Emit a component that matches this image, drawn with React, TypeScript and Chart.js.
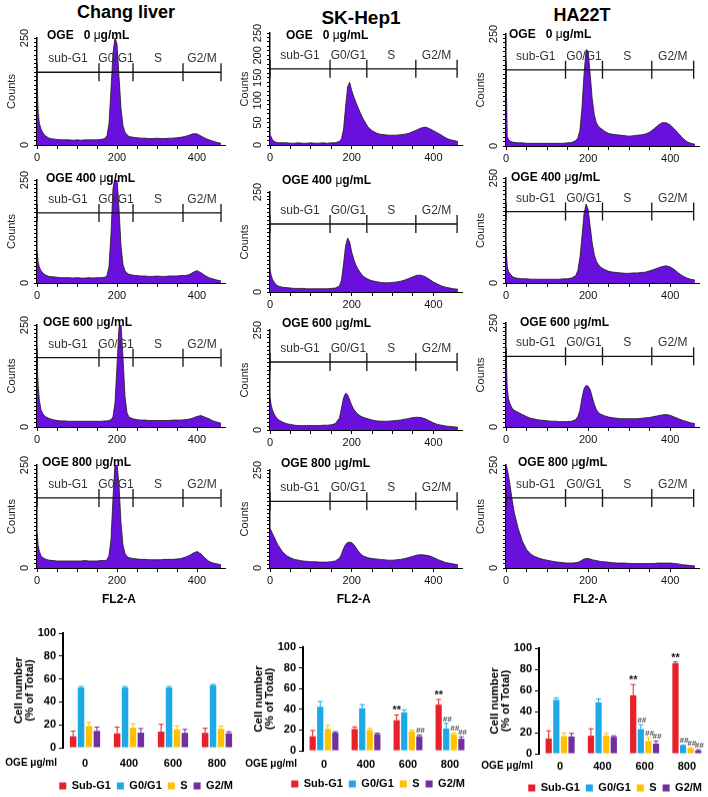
import React, { useEffect, useRef } from "react";
import { Chart, registerables } from "chart.js";

Chart.register(...registerables);

// ---------------- DATA ----------------
const CELL_LINES = ["Chang liver", "SK-Hep1", "HA22T"];
const OGE_DOSES = ["0", "400", "600", "800"];
const PHASES = ["sub-G1", "G0/G1", "S", "G2/M"];
const BAR_PHASES = ["Sub-G1", "G0/G1", "S", "G2/M"];
const DOSE_AXIS_LABEL = "OGE μg/ml";
const HIST_X_TITLE = "FL2-A";
const HIST_X_TITLE_AT = 205;

// FL2-A channel positions at which histogram counts are read
const FL2_BINS = [
  0, 3, 6, 10, 15, 20,
  30, 40, 50, 60, 70, 80, 90, 100, 110, 120, 130, 140, 150, 160,
  170, 175, 180, 185, 190, 195, 200, 205, 210, 215, 220, 225, 230,
  240, 250, 260, 270, 280, 290, 300, 310, 320, 330, 340, 350, 360, 370, 380, 390, 400, 410, 420, 430, 440, 450, 460,
];

const CHANG_0 = [
  160, 75, 50, 38, 28, 22,
  16, 14, 13, 12, 12, 12, 11, 12, 11, 12, 12, 12, 12, 13,
  15, 22, 50, 130, 215, 252, 235, 160, 85, 45, 30, 24, 20,
  18, 17, 16, 16, 15, 15, 16, 15, 15, 16, 16, 17, 18, 20, 23, 26, 26, 21, 16, 12, 9, 6, 4,
];
const CHANG_400 = [
  80, 50, 38, 30, 24, 20,
  16, 15, 14, 13, 13, 13, 12, 13, 12, 12, 13, 12, 13, 13,
  14, 18, 40, 120, 230, 255, 255, 180, 90, 45, 30, 24, 21,
  19, 18, 17, 17, 16, 16, 17, 16, 16, 17, 17, 17, 18, 18, 20, 26, 30, 25, 18, 13, 10, 7, 5,
];
const CHANG_600 = [
  175, 100, 65, 42, 32, 26,
  21, 18, 16, 15, 15, 14, 14, 14, 14, 14, 14, 14, 14, 14,
  15, 15, 16, 18, 25, 60, 150, 245, 255, 170, 75, 35, 24,
  20, 18, 17, 17, 16, 16, 16, 16, 16, 16, 17, 17, 17, 18, 19, 22, 26, 28, 24, 20, 15, 12, 9,
];
const CHANG_800 = [
  85, 55, 40, 30, 25, 22,
  19, 18, 17, 17, 17, 17, 17, 17, 17, 18, 17, 17, 17, 18,
  18, 20, 30, 70, 170, 255, 255, 200, 110, 55, 35, 28, 25,
  23, 22, 21, 21, 20, 20, 20, 20, 21, 21, 21, 22, 23, 26, 30, 36, 40, 34, 24, 16, 12, 10, 8,
];
const SK_0 = [
  22, 18, 12, 8, 6, 5,
  5, 5, 4, 4, 5, 4, 4, 5, 4, 4, 5, 4, 5, 5,
  8, 14, 35, 85, 130, 140, 122, 108, 96, 85, 74, 64, 55,
  40, 32, 27, 24, 23, 22, 22, 22, 23, 24, 26, 30, 34, 38, 40, 37, 32, 27, 22, 16, 12, 10, 8,
];
const SK_400 = [
  55, 42, 32, 25, 18, 15,
  12, 11, 10, 9, 9, 9, 8, 8, 8, 8, 8, 8, 9, 10,
  15, 30, 70, 115, 135, 125, 100, 82, 68, 58, 50, 43, 38,
  32, 28, 26, 24, 23, 23, 24, 25, 27, 30, 34, 38, 42, 42, 38, 32, 25, 20, 15, 12, 10, 8, 7,
];
const SK_600 = [
  80, 62, 50, 40, 32, 26,
  20, 16, 14, 12, 11, 11, 11, 11, 11, 11, 12, 12, 13, 16,
  30, 55, 80, 92, 88, 75, 62, 52, 45, 40, 36, 33, 31,
  28, 25, 23, 22, 22, 22, 23, 24, 25, 27, 29, 31, 32, 31, 28, 23, 18, 14, 12, 10, 9, 8, 7,
];
const SK_800 = [
  100, 95, 88, 80, 68, 58,
  42, 32, 26, 22, 20, 18, 17, 16, 16, 15, 15, 15, 16, 18,
  25, 35, 50, 60, 65, 66, 65, 60, 52, 45, 38, 33, 30,
  26, 24, 23, 22, 21, 20, 20, 21, 22, 24, 27, 30, 33, 34, 33, 31, 27, 22, 18, 14, 12, 10, 8,
];
const HA_0 = [
  180, 22, 15, 11, 9, 8,
  7, 7, 6, 6, 6, 6, 6, 6, 6, 6, 6, 6, 7, 8,
  12, 18, 35, 85, 160, 215, 212, 160, 105, 70, 52, 44, 40,
  33, 28, 26, 25, 24, 23, 22, 23, 24, 25, 27, 31, 38, 46, 52, 52, 47, 38, 28, 18, 10, 6, 4,
];
const HA_400 = [
  90, 40, 28, 22, 16, 13,
  11, 10, 10, 9, 9, 9, 9, 9, 9, 9, 9, 10, 10, 12,
  18, 30, 60, 110, 165, 188, 175, 135, 95, 68, 52, 44, 38,
  32, 28, 26, 25, 24, 23, 23, 24, 24, 25, 26, 29, 32, 36, 39, 41, 38, 32, 24, 17, 12, 9, 7,
];
const HA_600 = [
  185, 95, 68, 55, 45, 40,
  35, 30, 25, 21, 19, 17, 16, 15, 14, 14, 13, 13, 13, 14,
  18, 25, 40, 70, 92, 100, 98, 90, 72, 55, 42, 35, 31,
  27, 24, 22, 21, 20, 20, 20, 20, 20, 21, 22, 23, 25, 27, 29, 30, 28, 24, 20, 16, 13, 10, 8,
];
const HA_800 = [
  250, 240, 225, 200, 165, 135,
  95, 65, 45, 34, 28, 24, 21, 19, 17, 15, 14, 13, 12, 12,
  13, 14, 16, 19, 22, 23, 23, 22, 20, 19, 18, 17, 16,
  15, 14, 13, 12, 12, 12, 11, 11, 11, 11, 11, 11, 11, 12, 12, 12, 12, 11, 10, 8, 7, 6, 5,
];

// gate boundaries (FL2-A) and gate bar level (counts)
const GATES_CHANG = [0, 155, 240, 365, 460];
const GATES_SK = [0, 147, 237, 357, 458];
const GATES_HA = [0, 145, 235, 355, 457];
const GATE_LEVEL = 170;

const Y_TICKS_DEFAULT = [0, 250];
const Y_TICKS_SK_FIRST = [0, 50, 100, 150, 200, 250];

// bar charts: % of total cells, mean and error
const CHANG_SUBG1 = [10, 12.5, 14, 13];
const CHANG_SUBG1_ERR = [4.5, 5.5, 6.5, 4];
const CHANG_G0G1 = [52.5, 52.5, 52.5, 54.5];
const CHANG_G0G1_ERR = [1, 1, 1, 0.8];
const CHANG_S = [19, 17.5, 16, 16.5];
const CHANG_S_ERR = [3, 3.5, 3, 2.5];
const CHANG_G2M = [14.7, 13.2, 13, 12.6];
const CHANG_G2M_ERR = [3.3, 3.5, 3, 1.4];

const SK_SUBG1 = [14, 21, 29.5, 44.5];
const SK_SUBG1_ERR = [5.5, 2, 5, 5];
const SK_G0G1 = [42.5, 41, 37, 21.5];
const SK_G0G1_ERR = [5, 3.5, 2.5, 5];
const SK_S = [21, 20, 18.7, 16];
const SK_S_ERR = [3.5, 1.5, 1.3, 1.4];
const SK_G2M = [17.4, 16, 14, 11.6];
const SK_G2M_ERR = [1, 1, 1.3, 1.9];

const HA_SUBG1 = [14.4, 17, 55.3, 85.6];
const HA_SUBG1_ERR = [7.3, 6.6, 10.2, 1.3];
const HA_G0G1 = [51, 48.6, 23.3, 7.7];
const HA_G0G1_ERR = [2, 3.2, 4.2, 0.6];
const HA_S = [16.6, 17, 12, 5];
const HA_S_ERR = [3.2, 2.2, 3.3, 0.7];
const HA_G2M = [16.3, 16, 9.6, 2.9];
const HA_G2M_ERR = [2.9, 1, 2.4, 0.9];

const NO_SIG = ["", "", "", ""];
const SK_SUBG1_SIG = ["", "", "**", "**"];
const SK_G0G1_SIG = ["", "", "", "##"];
const SK_S_SIG = ["", "", "", "##"];
const SK_G2M_SIG = ["", "", "##", "##"];
const HA_SUBG1_SIG = ["", "", "**", "**"];
const HA_OTHER_SIG = ["", "", "##", "##"];

// ---------------- STYLE / LAYOUT ----------------
const SANS = "'Liberation Sans', Arial, Helvetica, sans-serif";
const NARROW = "'Liberation Sans Narrow', 'Arial Narrow', 'Liberation Sans', Arial, sans-serif";
const HIST_FILL = "#6A10DC";
const BAR_COLORS = ["#E8202A", "#1CA9E6", "#FFC000", "#7030A0"];

const HEAD_POS = [
  [126, 12],
  [361, 18],
  [582, 15],
];
const HEAD_SIZE = [18, 19, 18];
const HIST_COLS = [
  { axisX: 37, plotW: 188 },
  { axisX: 270, plotW: 192 },
  { axisX: 506, plotW: 193 },
];
const HIST_ROWS_Y = [
  [[38, 145], [180, 283], [325, 427], [465, 568]],
  [[33, 145], [192, 292], [330, 430], [470, 568]],
  [[34, 146], [178, 283], [323, 427], [465, 568]],
];
const LABEL_POS = [
  [[47, 35], [46, 178], [43, 322], [42, 462]],
  [[286, 35], [282, 180], [282, 323], [281, 463]],
  [[509, 34], [511, 177], [520, 322], [518, 462]],
];
const BAR_LAYOUT = [
  { areaLeft: 63, areaRight: 239, areaTop: 633, areaBottom: 747, xPad: 9, legendY: 785 },
  { areaLeft: 303, areaRight: 471, areaTop: 647, areaBottom: 750, xPad: 7, legendY: 783 },
  { areaLeft: 539, areaRight: 708, areaTop: 648, areaBottom: 753, xPad: 6, legendY: 787 },
];
const LEGEND_H = 27;

// ---------------- PLUGINS ----------------
const gatePlugin = {
  id: "gates",
  afterDatasetsDraw(chart: any, _args: any, opts: any) {
    const { ctx, chartArea } = chart;
    const x = chart.scales.x;
    const y = chart.scales.y;
    const edges: number[] = opts.edges;
    const yy = y.getPixelForValue(opts.level);
    ctx.save();
    ctx.strokeStyle = "#111";
    ctx.lineWidth = 1.3;
    ctx.beginPath();
    ctx.moveTo(x.getPixelForValue(edges[0]), yy);
    ctx.lineTo(x.getPixelForValue(edges[edges.length - 1]), yy);
    edges.forEach((e) => {
      const px = x.getPixelForValue(e);
      ctx.moveTo(px, yy - 9);
      ctx.lineTo(px, yy + 9);
    });
    ctx.stroke();
    ctx.font = `12px ${NARROW}`;
    ctx.fillStyle = "#333";
    ctx.textAlign = "center";
    ctx.textBaseline = "alphabetic";
    (opts.labels as string[]).forEach((lab, i) => {
      const cx = (x.getPixelForValue(edges[i]) + x.getPixelForValue(edges[i + 1])) / 2;
      ctx.fillText(lab, cx, yy - 10);
    });
    // rotated y tick labels
    ctx.fillStyle = "#111";
    ctx.font = `11px ${NARROW}`;
    ctx.textBaseline = "middle";
    (opts.yTicks as number[]).forEach((v) => {
      const py = y.getPixelForValue(v);
      ctx.save();
      ctx.translate(chartArea.left - 12, py);
      ctx.rotate(-Math.PI / 2);
      ctx.fillText(String(v), 0, 0);
      ctx.restore();
    });
    if (opts.xTitle) {
      ctx.font = `bold 12px ${SANS}`;
      ctx.fillStyle = "#000";
      ctx.textAlign = "center";
      ctx.fillText(opts.xTitle, x.getPixelForValue(HIST_X_TITLE_AT), chartArea.bottom + 32);
    }
    ctx.restore();
  },
};

const errPlugin = {
  id: "errbars",
  afterDatasetsDraw(chart: any) {
    const { ctx, chartArea } = chart;
    const y = chart.scales.y;
    ctx.save();
    chart.data.datasets.forEach((ds: any, di: number) => {
      const meta = chart.getDatasetMeta(di);
      meta.data.forEach((bar: any, j: number) => {
        const v = ds.data[j];
        const e = ds.errorBars[j];
        const px = bar.x;
        const base = y.getPixelForValue(v);
        const top = y.getPixelForValue(v + e);
        ctx.strokeStyle = ds.backgroundColor;
        ctx.lineWidth = 1;
        ctx.beginPath();
        ctx.moveTo(px, base);
        ctx.lineTo(px, top);
        ctx.moveTo(px - 2.5, top);
        ctx.lineTo(px + 2.5, top);
        ctx.stroke();
        const mark = ds.sigMarks[j];
        if (mark) {
          ctx.textAlign = "center";
          ctx.textBaseline = "alphabetic";
          if (mark === "**") {
            ctx.font = `bold 11px ${SANS}`;
            ctx.fillStyle = "#111";
            ctx.fillText(mark, px, top - 1);
          } else {
            ctx.font = `italic bold 8px ${SANS}`;
            ctx.fillStyle = "#444";
            ctx.fillText(mark, px + 1, top - 2);
          }
        }
      });
    });
    ctx.font = `bold 10px ${NARROW}`;
    ctx.fillStyle = "#000";
    ctx.textAlign = "right";
    ctx.textBaseline = "middle";
    const lay = chart.options.plugins.errbars;
    ctx.fillText(DOSE_AXIS_LABEL, chartArea.left - 6, chartArea.bottom + lay.xPad + 6);
    ctx.restore();
  },
};

// ---------------- CONFIG BUILDERS ----------------
function histConfig(values: number[], gates: number[], yTicks: number[], bottomRow: boolean) {
  return {
    type: "line",
    data: {
      datasets: [
        {
          data: FL2_BINS.map((x, i) => ({ x, y: values[i] })),
          fill: "origin",
          backgroundColor: HIST_FILL,
          borderColor: "#1a1a1a",
          borderWidth: 0.8,
          pointRadius: 0,
          tension: 0,
        },
      ],
    },
    options: {
      animation: false,
      responsive: true,
      maintainAspectRatio: false,
      layout: { padding: { top: 22, right: 8, left: 0, bottom: 0 } },
      plugins: {
        legend: { display: false },
        tooltip: { enabled: false },
        gates: { edges: gates, level: GATE_LEVEL, labels: PHASES, yTicks, xTitle: bottomRow ? HIST_X_TITLE : "" },
      },
      scales: {
        x: {
          type: "linear",
          min: 0,
          max: 470,
          border: { color: "#000", width: 1 },
          grid: { display: true, drawOnChartArea: false, drawTicks: true, tickLength: 4, color: "#000" },
          ticks: {
            stepSize: 50,
            autoSkip: false,
            maxRotation: 0,
            padding: 2,
            color: "#111",
            font: { family: NARROW, size: 11 },
            callback: (v: any) => (Number(v) % 200 === 0 ? String(v) : ""),
          },
          afterBuildTicks: (s: any) => {
            s.ticks = s.ticks.filter((t: any) => t.value % 50 === 0);
          },
          afterFit: (s: any) => {
            s.height = bottomRow ? 39 : 20;
          },
        },
        y: {
          min: 0,
          max: 250,
          border: { color: "#000", width: 1.5 },
          grid: { display: true, drawOnChartArea: false, drawTicks: true, tickLength: 3, color: "#000" },
          ticks: { display: false, stepSize: 10 },
          afterFit: (s: any) => {
            s.width = 32;
          },
          title: { display: true, text: "Counts", color: "#222", font: { family: SANS, size: 11 }, padding: 0 },
        },
      },
    },
    plugins: [gatePlugin],
  };
}

function barConfig(series: number[][], errs: number[][], sigs: string[][], xPad: number, xAxisH: number) {
  return {
    type: "bar",
    data: {
      labels: OGE_DOSES,
      datasets: BAR_PHASES.map((p, i) => ({
        label: p,
        data: series[i],
        backgroundColor: BAR_COLORS[i],
        borderWidth: 0,
        categoryPercentage: 0.72,
        barPercentage: 0.82,
        errorBars: errs[i],
        sigMarks: sigs[i],
      })),
    },
    options: {
      animation: false,
      responsive: true,
      maintainAspectRatio: false,
      layout: { padding: { top: 15, right: 0, left: 0, bottom: 0 } },
      plugins: {
        legend: {
          position: "bottom",
          align: "end",
          labels: { boxWidth: 7, boxHeight: 7, padding: 6, color: "#000", font: { family: SANS, size: 11, weight: "bold" } },
        },
        tooltip: { enabled: false },
        errbars: { xPad },
      },
      scales: {
        x: {
          grid: { display: false, drawTicks: false },
          border: { display: false },
          ticks: { padding: xPad, color: "#000", font: { family: SANS, size: 11, weight: "bold" } },
          afterFit: (s: any) => {
            s.height = xAxisH;
          },
        },
        y: {
          min: 0,
          max: 100,
          ticks: { stepSize: 20, padding: 3, color: "#000", font: { family: SANS, size: 11, weight: "bold" } },
          grid: { display: true, drawOnChartArea: false, drawTicks: true, tickLength: 4, color: "#000" },
          border: { display: true, color: "#000", width: 2 },
          title: {
            display: true,
            text: ["Cell number", "(% of Total)"],
            color: "#000",
            font: { family: SANS, size: 11.5, weight: "bold", lineHeight: 1.0 },
            padding: { top: 13, bottom: 0 },
          },
          afterFit: (s: any) => {
            s.width = 63;
          },
        },
      },
    },
    plugins: [errPlugin],
  };
}

// ---------------- COMPONENTS ----------------
function ChartBox({ left, top, width, height, make }: any) {
  const ref = useRef<HTMLCanvasElement>(null);
  useEffect(() => {
    const chart = new Chart(ref.current as HTMLCanvasElement, make());
    return () => chart.destroy();
  }, []);
  return (
    <div style={{ position: "absolute", left, top, width, height }}>
      <canvas ref={ref} />
    </div>
  );
}

const HIST_VALUES = [
  [CHANG_0, CHANG_400, CHANG_600, CHANG_800],
  [SK_0, SK_400, SK_600, SK_800],
  [HA_0, HA_400, HA_600, HA_800],
];
const HIST_GATES = [GATES_CHANG, GATES_SK, GATES_HA];
const BAR_SERIES = [
  [CHANG_SUBG1, CHANG_G0G1, CHANG_S, CHANG_G2M],
  [SK_SUBG1, SK_G0G1, SK_S, SK_G2M],
  [HA_SUBG1, HA_G0G1, HA_S, HA_G2M],
];
const BAR_ERRS = [
  [CHANG_SUBG1_ERR, CHANG_G0G1_ERR, CHANG_S_ERR, CHANG_G2M_ERR],
  [SK_SUBG1_ERR, SK_G0G1_ERR, SK_S_ERR, SK_G2M_ERR],
  [HA_SUBG1_ERR, HA_G0G1_ERR, HA_S_ERR, HA_G2M_ERR],
];
const BAR_SIGS = [
  [NO_SIG, NO_SIG, NO_SIG, NO_SIG],
  [SK_SUBG1_SIG, SK_G0G1_SIG, SK_S_SIG, SK_G2M_SIG],
  [HA_SUBG1_SIG, HA_OTHER_SIG, HA_OTHER_SIG, HA_OTHER_SIG],
];

export default function App() {
  const hists: any[] = [];
  const labels: any[] = [];
  HIST_COLS.forEach((col, c) => {
    HIST_ROWS_Y[c].forEach(([yTop, yBot], r) => {
      const bottomRow = r === 3;
      const xH = bottomRow ? 39 : 20;
      const yTicks = c === 1 && r === 0 ? Y_TICKS_SK_FIRST : Y_TICKS_DEFAULT;
      hists.push(
        <ChartBox
          key={`h${c}-${r}`}
          left={col.axisX - 32}
          top={yTop - 22}
          width={32 + col.plotW + 8}
          height={22 + (yBot - yTop) + xH}
          make={() => histConfig(HIST_VALUES[c][r], HIST_GATES[c], yTicks, bottomRow)}
        />
      );
      const [lx, ly] = LABEL_POS[c][r];
      labels.push(
        <div
          key={`l${c}-${r}`}
          style={{
            position: "absolute",
            left: lx,
            top: ly - 8,
            fontFamily: SANS,
            fontWeight: "bold",
            fontSize: 12,
            lineHeight: "16px",
            whiteSpace: "pre",
            color: "#000",
          }}
        >
          {`OGE${r === 0 ? "\u2007 " : " "}${OGE_DOSES[r]} `}
          <span style={{ fontWeight: "normal" }}>μ</span>g/mL
        </div>
      );
    });
  });

  const bars = BAR_LAYOUT.map((b, i) => {
    const left = b.areaLeft - 63;
    const top = b.areaTop - 15;
    const xAxisH = b.legendY - 11.5 - b.areaBottom;
    const height = 15 + (b.areaBottom - b.areaTop) + xAxisH + LEGEND_H;
    return (
      <ChartBox
        key={`b${i}`}
        left={left}
        top={top}
        width={b.areaRight - left}
        height={height}
        make={() => barConfig(BAR_SERIES[i], BAR_ERRS[i], BAR_SIGS[i], b.xPad, xAxisH)}
      />
    );
  });

  return (
    <div
      style={{
        position: "fixed",
        left: 0,
        top: 0,
        width: 708,
        height: 797,
        overflow: "hidden",
        background: "#fff",
        fontFamily: SANS,
      }}
    >
      {CELL_LINES.map((name, c) => (
        <div
          key={name}
          style={{
            position: "absolute",
            left: HEAD_POS[c][0] - 100,
            top: HEAD_POS[c][1] - 11,
            width: 200,
            textAlign: "center",
            fontFamily: SANS,
            fontWeight: "bold",
            fontSize: HEAD_SIZE[c],
            lineHeight: "22px",
            color: "#000",
          }}
        >
          {name}
        </div>
      ))}
      {hists}
      {labels}
      {bars}
    </div>
  );
}
